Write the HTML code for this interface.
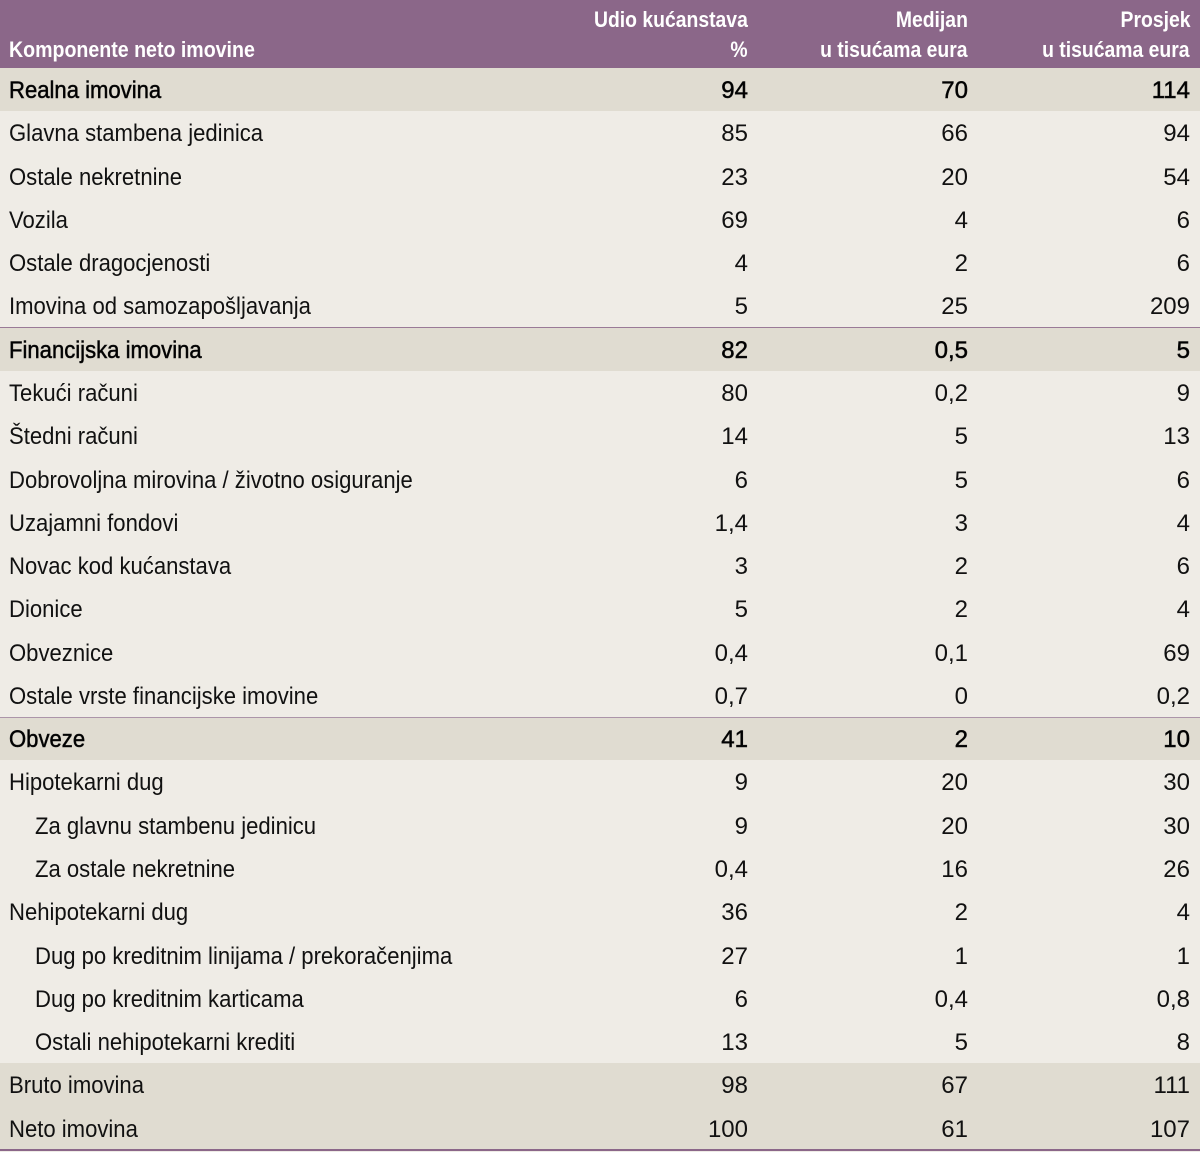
<!DOCTYPE html>
<html><head><meta charset="utf-8">
<style>
html,body{margin:0;padding:0;}
body{width:1200px;height:1152px;background:#efece6;position:relative;overflow:hidden;font-family:"Liberation Sans",sans-serif;color:#111;}
.hdr{position:absolute;left:0;top:0;width:1200px;height:68px;background:#8b6789;}
.h{position:absolute;color:#fff;font-weight:bold;font-size:22px;line-height:22px;white-space:nowrap;}
.hl{transform:scaleX(0.89);transform-origin:left;}
.hr{transform:scaleX(0.88);transform-origin:right;text-align:right;}
.row{position:absolute;left:0;width:1200px;height:43.28px;}
.sh{background:#e0dcd1;}
.row span{position:absolute;top:0;line-height:43.28px;font-size:24px;white-space:nowrap;padding-top:1px;}
.l{left:9px;transform:scaleX(0.92);transform-origin:left;}
.l.in{left:35px;}
.c1{right:452px;text-align:right;}
.c2{right:232px;text-align:right;}
.c3{right:10px;text-align:right;}
.b span{-webkit-text-stroke:0.55px #111;color:#000;}
.line{position:absolute;left:0;width:1200px;height:1px;background:#9a7a97;}
</style></head><body>
<div class="hdr"></div>
<div class="h hl" style="left:9px;top:39px;">Komponente neto imovine</div>
<div class="h hr" style="right:452px;top:9px;">Udio kućanstava</div>
<div class="h hr" style="right:452px;top:39px;">%</div>
<div class="h hr" style="right:232px;top:9px;">Medijan</div>
<div class="h hr" style="right:232px;top:39px;">u tisućama eura</div>
<div class="h hr" style="right:10px;top:9px;">Prosjek</div>
<div class="h hr" style="right:10px;top:39px;">u tisućama eura</div>

<div class="row sh b" style="top:68px;"><span class="l">Realna imovina</span><span class="c1">94</span><span class="c2">70</span><span class="c3">114</span></div>
<div class="row" style="top:111.28px;"><span class="l">Glavna stambena jedinica</span><span class="c1">85</span><span class="c2">66</span><span class="c3">94</span></div>
<div class="row" style="top:154.56px;"><span class="l">Ostale nekretnine</span><span class="c1">23</span><span class="c2">20</span><span class="c3">54</span></div>
<div class="row" style="top:197.84px;"><span class="l">Vozila</span><span class="c1">69</span><span class="c2">4</span><span class="c3">6</span></div>
<div class="row" style="top:241.12px;"><span class="l">Ostale dragocjenosti</span><span class="c1">4</span><span class="c2">2</span><span class="c3">6</span></div>
<div class="row" style="top:284.4px;"><span class="l">Imovina od samozapošljavanja</span><span class="c1">5</span><span class="c2">25</span><span class="c3">209</span></div>
<div class="row sh b" style="top:327.68px;"><span class="l">Financijska imovina</span><span class="c1">82</span><span class="c2">0,5</span><span class="c3">5</span></div>
<div class="row" style="top:370.96px;"><span class="l">Tekući računi</span><span class="c1">80</span><span class="c2">0,2</span><span class="c3">9</span></div>
<div class="row" style="top:414.24px;"><span class="l">Štedni računi</span><span class="c1">14</span><span class="c2">5</span><span class="c3">13</span></div>
<div class="row" style="top:457.52px;"><span class="l">Dobrovoljna mirovina / životno osiguranje</span><span class="c1">6</span><span class="c2">5</span><span class="c3">6</span></div>
<div class="row" style="top:500.8px;"><span class="l">Uzajamni fondovi</span><span class="c1">1,4</span><span class="c2">3</span><span class="c3">4</span></div>
<div class="row" style="top:544.08px;"><span class="l">Novac kod kućanstava</span><span class="c1">3</span><span class="c2">2</span><span class="c3">6</span></div>
<div class="row" style="top:587.36px;"><span class="l">Dionice</span><span class="c1">5</span><span class="c2">2</span><span class="c3">4</span></div>
<div class="row" style="top:630.64px;"><span class="l">Obveznice</span><span class="c1">0,4</span><span class="c2">0,1</span><span class="c3">69</span></div>
<div class="row" style="top:673.92px;"><span class="l">Ostale vrste financijske imovine</span><span class="c1">0,7</span><span class="c2">0</span><span class="c3">0,2</span></div>
<div class="row sh b" style="top:717.2px;"><span class="l">Obveze</span><span class="c1">41</span><span class="c2">2</span><span class="c3">10</span></div>
<div class="row" style="top:760.48px;"><span class="l">Hipotekarni dug</span><span class="c1">9</span><span class="c2">20</span><span class="c3">30</span></div>
<div class="row" style="top:803.76px;"><span class="l in">Za glavnu stambenu jedinicu</span><span class="c1">9</span><span class="c2">20</span><span class="c3">30</span></div>
<div class="row" style="top:847.04px;"><span class="l in">Za ostale nekretnine</span><span class="c1">0,4</span><span class="c2">16</span><span class="c3">26</span></div>
<div class="row" style="top:890.32px;"><span class="l">Nehipotekarni dug</span><span class="c1">36</span><span class="c2">2</span><span class="c3">4</span></div>
<div class="row" style="top:933.6px;"><span class="l in">Dug po kreditnim linijama / prekoračenjima</span><span class="c1">27</span><span class="c2">1</span><span class="c3">1</span></div>
<div class="row" style="top:976.88px;"><span class="l in">Dug po kreditnim karticama</span><span class="c1">6</span><span class="c2">0,4</span><span class="c3">0,8</span></div>
<div class="row" style="top:1020.16px;"><span class="l in">Ostali nehipotekarni krediti</span><span class="c1">13</span><span class="c2">5</span><span class="c3">8</span></div>
<div class="row sh" style="top:1063.44px;"><span class="l">Bruto imovina</span><span class="c1">98</span><span class="c2">67</span><span class="c3">111</span></div>
<div class="row sh" style="top:1106.72px;"><span class="l">Neto imovina</span><span class="c1">100</span><span class="c2">61</span><span class="c3">107</span></div>

<div class="line" style="top:327px;"></div>
<div class="line" style="top:716.5px;background:#ac95a9;"></div>
<div class="line" style="top:1149px;height:2px;background:#8b6789;"></div>
</body></html>
